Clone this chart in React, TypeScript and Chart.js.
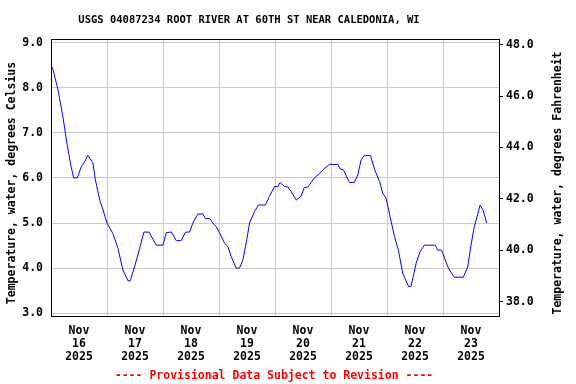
import React, { useEffect, useRef } from "react";
import { Chart, registerables } from "chart.js";

Chart.register(...registerables);

const TITLE = "USGS 04087234 ROOT RIVER AT 60TH ST NEAR CALEDONIA, WI";
const LEFT_TITLE = "Temperature, water, degrees Celsius";
const RIGHT_TITLE = "Temperature, water, degrees Fahrenheit";
const FOOTER = "---- Provisional Data Subject to Revision ----";

// hours since Nov 16 2025 00:00
const hours = [
  0, 0.9, 3.0, 5.1, 6.6, 8.3, 9.7, 11.3, 13.0, 14.4, 15.8, 18.0, 19.0, 20.9, 22.3, 24.0,
  26.5, 28.7, 30.8, 33.0, 34.0, 35.8, 38.0, 39.8, 42.0, 45.1, 48.0, 49.4, 51.6, 53.7,
  55.8, 57.7, 59.4, 60.8, 62.9, 65.1, 66.1, 68.0, 69.4, 70.8, 72.2, 74.4, 75.8, 77.2,
  79.4, 80.8, 82.2, 83.9, 85.1, 87.2, 88.9, 91.9, 93.6, 95.8, 97.2, 98.2, 100.1, 101.5,
  102.9, 105.1, 107.2, 108.6, 110.1, 111.5, 112.9, 115.1, 116.9, 119.3, 122.9, 123.9,
  125.3, 127.9, 130.0, 131.5, 132.9, 134.3, 136.9, 138.6, 140.8, 142.2, 143.6, 145.0,
  147.2, 148.9, 150.7, 153.3, 154.3, 156.5, 158.2, 160.0, 164.7, 165.7, 167.4, 169.3,
  170.3, 172.8, 176.7, 178.6, 180.0, 181.4, 182.8, 183.9, 185.3, 186.7,
];
const tempC = [
  8.5, 8.4, 7.95, 7.36, 6.84, 6.33, 6.0, 6.0, 6.25, 6.36, 6.5, 6.33, 5.96, 5.51, 5.29, 5.0,
  4.77, 4.44, 3.96, 3.72, 3.72, 4.03, 4.44, 4.8, 4.8, 4.51, 4.51, 4.79, 4.8, 4.61,
  4.61, 4.8, 4.8, 5.0, 5.2, 5.2, 5.1, 5.1, 5.0, 4.92, 4.79, 4.55, 4.48, 4.26,
  4.0, 4.0, 4.18, 4.63, 5.0, 5.25, 5.4, 5.4, 5.59, 5.81, 5.81, 5.9, 5.81, 5.8,
  5.7, 5.51, 5.6, 5.79, 5.8, 5.9, 6.0, 6.1, 6.2, 6.3, 6.3, 6.2,
  6.18, 5.9, 5.9, 6.07, 6.4, 6.5, 6.5, 6.2, 5.92, 5.66, 5.55, 5.22,
  4.7, 4.4, 3.89, 3.59, 3.6, 4.11, 4.37, 4.51, 4.51, 4.4, 4.4, 4.14,
  4.0, 3.8, 3.8, 4.03, 4.51, 4.92, 5.18, 5.4, 5.27, 5.0,
];

const celsiusTicks = [3, 4, 5, 6, 7, 8, 9];
const fahrenheitTicks = [38, 40, 42, 44, 46, 48];
const xTicks = [0, 12, 24, 36, 48, 60, 72, 84, 96, 108, 120, 132, 144, 156, 168, 180, 192];
const dayLabels = [
  ["Nov", "16", "2025"],
  ["Nov", "17", "2025"],
  ["Nov", "18", "2025"],
  ["Nov", "19", "2025"],
  ["Nov", "20", "2025"],
  ["Nov", "21", "2025"],
  ["Nov", "22", "2025"],
  ["Nov", "23", "2025"],
];

const FONT = "'DejaVu Sans Mono', monospace";

const decor = {
  id: "decor",
  afterDraw(chart: any) {
    const { ctx, chartArea: a } = chart;
    ctx.save();
    ctx.strokeStyle = "#000";
    ctx.lineWidth = 1;
    ctx.strokeRect(
      Math.round(a.left) + 0.5,
      Math.round(a.top) + 0.5,
      Math.round(a.right) - Math.round(a.left),
      Math.round(a.bottom) - Math.round(a.top)
    );
    ctx.fillStyle = "#000";
    ctx.textAlign = "center";
    ctx.textBaseline = "middle";
    ctx.font = `bold 10.5px ${FONT}`;
    ctx.fillText(TITLE, 249, 20);
    ctx.font = `bold 11.5px ${FONT}`;
    ctx.save();
    ctx.translate(12, 183);
    ctx.rotate(-Math.PI / 2);
    ctx.fillText(LEFT_TITLE, 0, 0);
    ctx.restore();
    ctx.save();
    ctx.translate(558, 183);
    ctx.rotate(-Math.PI / 2);
    ctx.fillText(RIGHT_TITLE, 0, 0);
    ctx.restore();
    ctx.fillStyle = "#ff0000";
    ctx.fillText(FOOTER, 274, 376);
    ctx.restore();
  },
};

export default function App() {
  const ref = useRef<HTMLCanvasElement>(null);
  useEffect(() => {
    if (!ref.current) return;
    const chart = new Chart(ref.current, {
      type: "line",
      data: {
        datasets: [
          {
            data: hours.map((h, i) => ({ x: h, y: tempC[i] })),
            borderColor: "#0000ff",
            borderWidth: 1,
            pointRadius: 0,
            tension: 0,
            yAxisID: "yC",
          },
        ],
      },
      options: {
        animation: false,
        responsive: false,
        layout: { padding: { top: 39, left: 0, right: 0, bottom: 0 } },
        plugins: { legend: { display: false }, tooltip: { enabled: false }, title: { display: false } },
        scales: {
          x: {
            type: "linear",
            position: "bottom",
            min: 0,
            max: 192,
            afterBuildTicks: (s: any) => {
              s.ticks = xTicks.map((v) => ({ value: v }));
            },
            afterFit: (s: any) => {
              s.height = 68;
            },
            grid: {
              color: (c: any) => (c.tick && c.tick.value % 24 === 0 ? "#c8c8c8" : "rgba(0,0,0,0)"),
              drawTicks: false,
              lineWidth: 1,
            },
            border: { display: false },
            ticks: {
              autoSkip: false,
              maxRotation: 0,
              padding: 9,
              color: "#000",
              font: { family: FONT, size: 11.5, weight: "bold", lineHeight: 1.13 },
              callback: (v: any) => (v % 24 === 12 ? dayLabels[(v - 12) / 24] : ""),
            },
          },
          yC: {
            type: "linear",
            position: "left",
            min: 2.94,
            max: 9.08,
            afterBuildTicks: (s: any) => {
              s.ticks = celsiusTicks.map((v) => ({ value: v }));
            },
            afterFit: (s: any) => {
              s.width = 51;
            },
            grid: { color: "#c8c8c8", drawTicks: false, lineWidth: 1 },
            border: { display: false },
            ticks: {
              padding: 8,
              color: "#000",
              font: { family: FONT, size: 11.5, weight: "bold" },
              callback: (v: any) => Number(v).toFixed(1),
            },
          },
          yF: {
            type: "linear",
            position: "right",
            min: 37.44,
            max: 48.22,
            afterBuildTicks: (s: any) => {
              s.ticks = fahrenheitTicks.map((v) => ({ value: v }));
            },
            afterFit: (s: any) => {
              s.width = 77;
            },
            grid: { drawOnChartArea: false, drawTicks: true, tickLength: 4, color: "#000", lineWidth: 1 },
            border: { display: false },
            ticks: {
              padding: 3,
              color: "#000",
              font: { family: FONT, size: 11.5, weight: "bold" },
              callback: (v: any) => Number(v).toFixed(1),
            },
          },
        },
      },
      plugins: [decor],
    } as any);
    return () => chart.destroy();
  }, []);
  return (
    <div style={{ position: "fixed", left: 0, top: 0, width: 576, height: 384, background: "#fff" }}>
      <canvas ref={ref} width={576} height={384} style={{ width: 576, height: 384 }} />
    </div>
  );
}
